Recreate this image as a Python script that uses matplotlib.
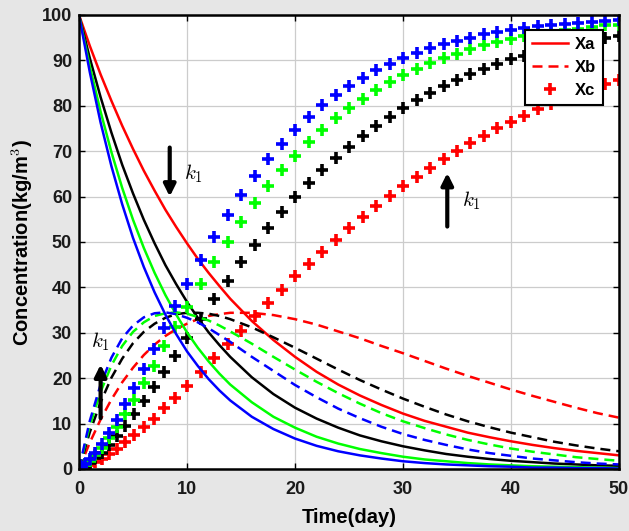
import matplotlib
matplotlib.use('Agg')
import matplotlib.pyplot as plt

# time points (day)
t_line = [0, 1, 2, 3, 4, 5, 6, 7, 8, 9, 10, 11, 12, 13, 14, 16, 18, 20, 22, 24, 26, 28, 30,
          32, 34, 36, 38, 40, 42, 44, 46, 48, 50]
t_mark = [0, 0.25, 0.6, 1.0, 1.5, 2.1, 2.8, 3.5, 4.3, 5.1, 6.0, 6.9, 7.9, 8.9, 10.0, 11.25, 12.5,
          13.75, 15.0, 16.25, 17.5, 18.75, 20.0, 21.25, 22.5, 23.75, 25.0, 26.25, 27.5, 28.75, 30.0,
          31.25, 32.5, 33.75, 35.0, 36.25, 37.5, 38.75, 40.0, 41.25, 42.5, 43.75, 45.0, 46.25, 47.5,
          48.75, 50.0]

# red (smallest k1)
xa_red = [100.0,93.2,86.9,81.1,75.6,70.5,65.7,61.3,57.1,53.3,49.7,46.3,43.2,40.3,37.5,32.6,28.4,24.7,21.4,18.6,16.2,14.1,12.2,10.6,9.3,8.0,7.0,6.1,5.3,4.6,4.0,3.5,3.0]
xb_red = [0.0,5.8,10.9,15.3,19.1,22.3,25.1,27.4,29.3,30.8,32.0,33.0,33.7,34.1,34.4,34.4,33.9,33.0,31.8,30.3,28.8,27.1,25.5,23.8,22.1,20.5,19.0,17.5,16.1,14.8,13.5,12.3,11.3]
xc_red = [0.0,0.2,0.5,0.9,1.5,2.3,3.3,4.5,5.9,7.4,9.2,11.1,13.4,15.7,18.3,21.3,24.4,27.5,30.5,33.6,36.6,39.5,42.4,45.2,47.9,50.5,53.0,55.5,57.9,60.1,62.3,64.4,66.3,68.2,70.0,71.8,73.4,75.0,76.4,77.8,79.2,80.4,81.6,82.7,83.8,84.8,85.7]

# black
xa_black = [100.0,90.5,81.9,74.1,67.0,60.7,54.9,49.7,44.9,40.7,36.8,33.3,30.1,27.3,24.7,20.2,16.5,13.5,11.1,9.1,7.4,6.1,5.0,4.1,3.3,2.7,2.2,1.8,1.5,1.2,1.0,0.8,0.7]
xb_black = [0.0,8.1,14.7,20.1,24.3,27.7,30.2,32.0,33.3,34.1,34.4,34.4,34.2,33.7,33.0,31.2,29.0,26.7,24.3,21.9,19.6,17.5,15.5,13.7,12.0,10.5,9.2,8.0,7.0,6.0,5.2,4.5,3.9]
xc_black = [0.0,0.3,0.8,1.4,2.4,3.6,5.3,7.2,9.5,12.0,14.9,18.0,21.4,24.9,28.8,33.1,37.4,41.5,45.5,49.4,53.0,56.5,59.8,62.9,65.8,68.5,71.0,73.4,75.6,77.6,79.5,81.3,82.9,84.4,85.7,87.0,88.1,89.2,90.2,91.0,91.9,92.6,93.3,93.9,94.5,95.0,95.4]

# green
xa_green = [100.0,88.7,78.7,69.8,61.9,54.9,48.7,43.2,38.3,34.0,30.1,26.7,23.7,21.0,18.6,14.7,11.5,9.1,7.1,5.6,4.4,3.5,2.7,2.1,1.7,1.3,1.0,0.8,0.6,0.5,0.4,0.3,0.2]
xb_green = [0.0,9.5,17.0,22.8,27.1,30.2,32.3,33.7,34.3,34.5,34.2,33.5,32.7,31.6,30.3,27.6,24.7,21.9,19.2,16.7,14.4,12.3,10.5,9.0,7.6,6.4,5.4,4.5,3.8,3.2,2.6,2.2,1.8]
xc_green = [0.0,0.4,1.0,1.8,3.0,4.6,6.8,9.2,12.2,15.3,19.0,22.7,27.0,31.2,35.7,40.7,45.5,50.1,54.5,58.5,62.3,65.8,69.0,72.0,74.7,77.2,79.5,81.6,83.5,85.2,86.7,88.1,89.4,90.5,91.5,92.4,93.3,94.0,94.7,95.3,95.8,96.3,96.7,97.0,97.4,97.7,97.9]

# blue (largest k1)
xa_blue = [100.0,87.4,76.3,66.7,58.3,50.9,44.5,38.9,34.0,29.7,25.9,22.7,19.8,17.3,15.1,11.5,8.8,6.7,5.1,3.9,3.0,2.3,1.7,1.3,1.0,0.8,0.6,0.5,0.3,0.3,0.2,0.2,0.1]
xb_blue = [0.0,10.6,18.6,24.5,28.8,31.6,33.4,34.3,34.5,34.1,33.3,32.3,31.0,29.5,28.0,24.7,21.6,18.5,15.8,13.3,11.2,9.3,7.7,6.4,5.3,4.3,3.5,2.9,2.3,1.9,1.5,1.2,1.0]
xc_blue = [0.0,0.4,1.1,2.1,3.5,5.4,8.0,10.8,14.3,17.9,22.1,26.4,31.1,35.8,40.7,46.1,51.2,56.0,60.4,64.5,68.2,71.6,74.7,77.5,80.1,82.3,84.4,86.2,87.8,89.2,90.5,91.7,92.7,93.6,94.3,95.0,95.7,96.2,96.7,97.1,97.5,97.8,98.1,98.3,98.5,98.7,98.9]

series = [('r', xa_red, xb_red, xc_red),
          ('k', xa_black, xb_black, xc_black),
          ('#00ff00', xa_green, xb_green, xc_green),
          ('b', xa_blue, xb_blue, xc_blue)]

plt.rcParams['font.family'] = ['Liberation Sans', 'DejaVu Sans']
plt.rcParams['font.weight'] = 'bold'
plt.rcParams['mathtext.fontset'] = 'cm'

fig = plt.figure(figsize=(6.29, 5.31), dpi=100, facecolor='#e6e6e6')
ax = fig.add_axes([0.1256, 0.1168, 0.8585, 0.855])

dash = (0, (4, 2.4))
for i, (col, xa, xb, xc) in enumerate(series):
    ax.plot(t_line, xa, color=col, lw=1.8, label='Xa' if i == 0 else None)
    ax.plot(t_line, xb, color=col, lw=1.8, linestyle=dash, label='Xb' if i == 0 else None)
    ax.plot(t_mark, xc, color=col, lw=0, marker='+', ms=8, mew=2.6,
            label='Xc' if i == 0 else None)

# k1 arrows
arr = dict(arrowstyle='-|>,head_length=0.7,head_width=0.35', lw=3, color='k',
           mutation_scale=10, shrinkA=0, shrinkB=0)
ax.annotate('', xy=(8.4, 60), xytext=(8.4, 70.8), arrowprops=arr)
ax.annotate('', xy=(34.1, 65.2), xytext=(34.1, 53.4), arrowprops=arr)
ax.annotate('', xy=(2.0, 23.0), xytext=(2.0, 11.2), arrowprops=arr)
ax.text(10.6, 65, '$k_1$', fontsize=15, ha='center', va='center')
ax.text(36.3, 59, '$k_1$', fontsize=15, ha='center', va='center')
ax.text(2.0, 28, '$k_1$', fontsize=15, ha='center', va='center')

ax.set_xlim(0, 50)
ax.set_ylim(0, 100)
ax.set_xticks(range(0, 51, 10))
ax.set_yticks(range(0, 101, 10))
ax.grid(True, color='#cccccc', lw=0.9)
ax.set_axisbelow(True)
ax.tick_params(direction='in', length=4, top=True, right=True, labelsize=13, width=1,
               labelcolor='#1a1a1a')
ax.tick_params(axis='x', pad=9)
ax.tick_params(axis='y', pad=5)
for s in ax.spines.values():
    s.set_linewidth(1.8)
ax.set_xlabel('Time(day)', fontsize=14.5, fontweight='bold')
ax.set_ylabel('Concentration(kg/m$^\\mathbf{3}$)', fontsize=14.5, fontweight='bold')
ax.xaxis.set_label_coords(0.5, -0.086)
ax.yaxis.set_label_coords(-0.082, 0.5)

leg = ax.legend(loc='upper right', bbox_to_anchor=(0.970, 0.967), borderaxespad=0, fontsize=12,
                fancybox=False, edgecolor='k', framealpha=1, handlelength=2.2,
                handletextpad=0.4, borderpad=0.4, labelspacing=0.5)
leg.get_frame().set_linewidth(1.5)

fig.savefig('out.png', dpi=100, facecolor=fig.get_facecolor())
